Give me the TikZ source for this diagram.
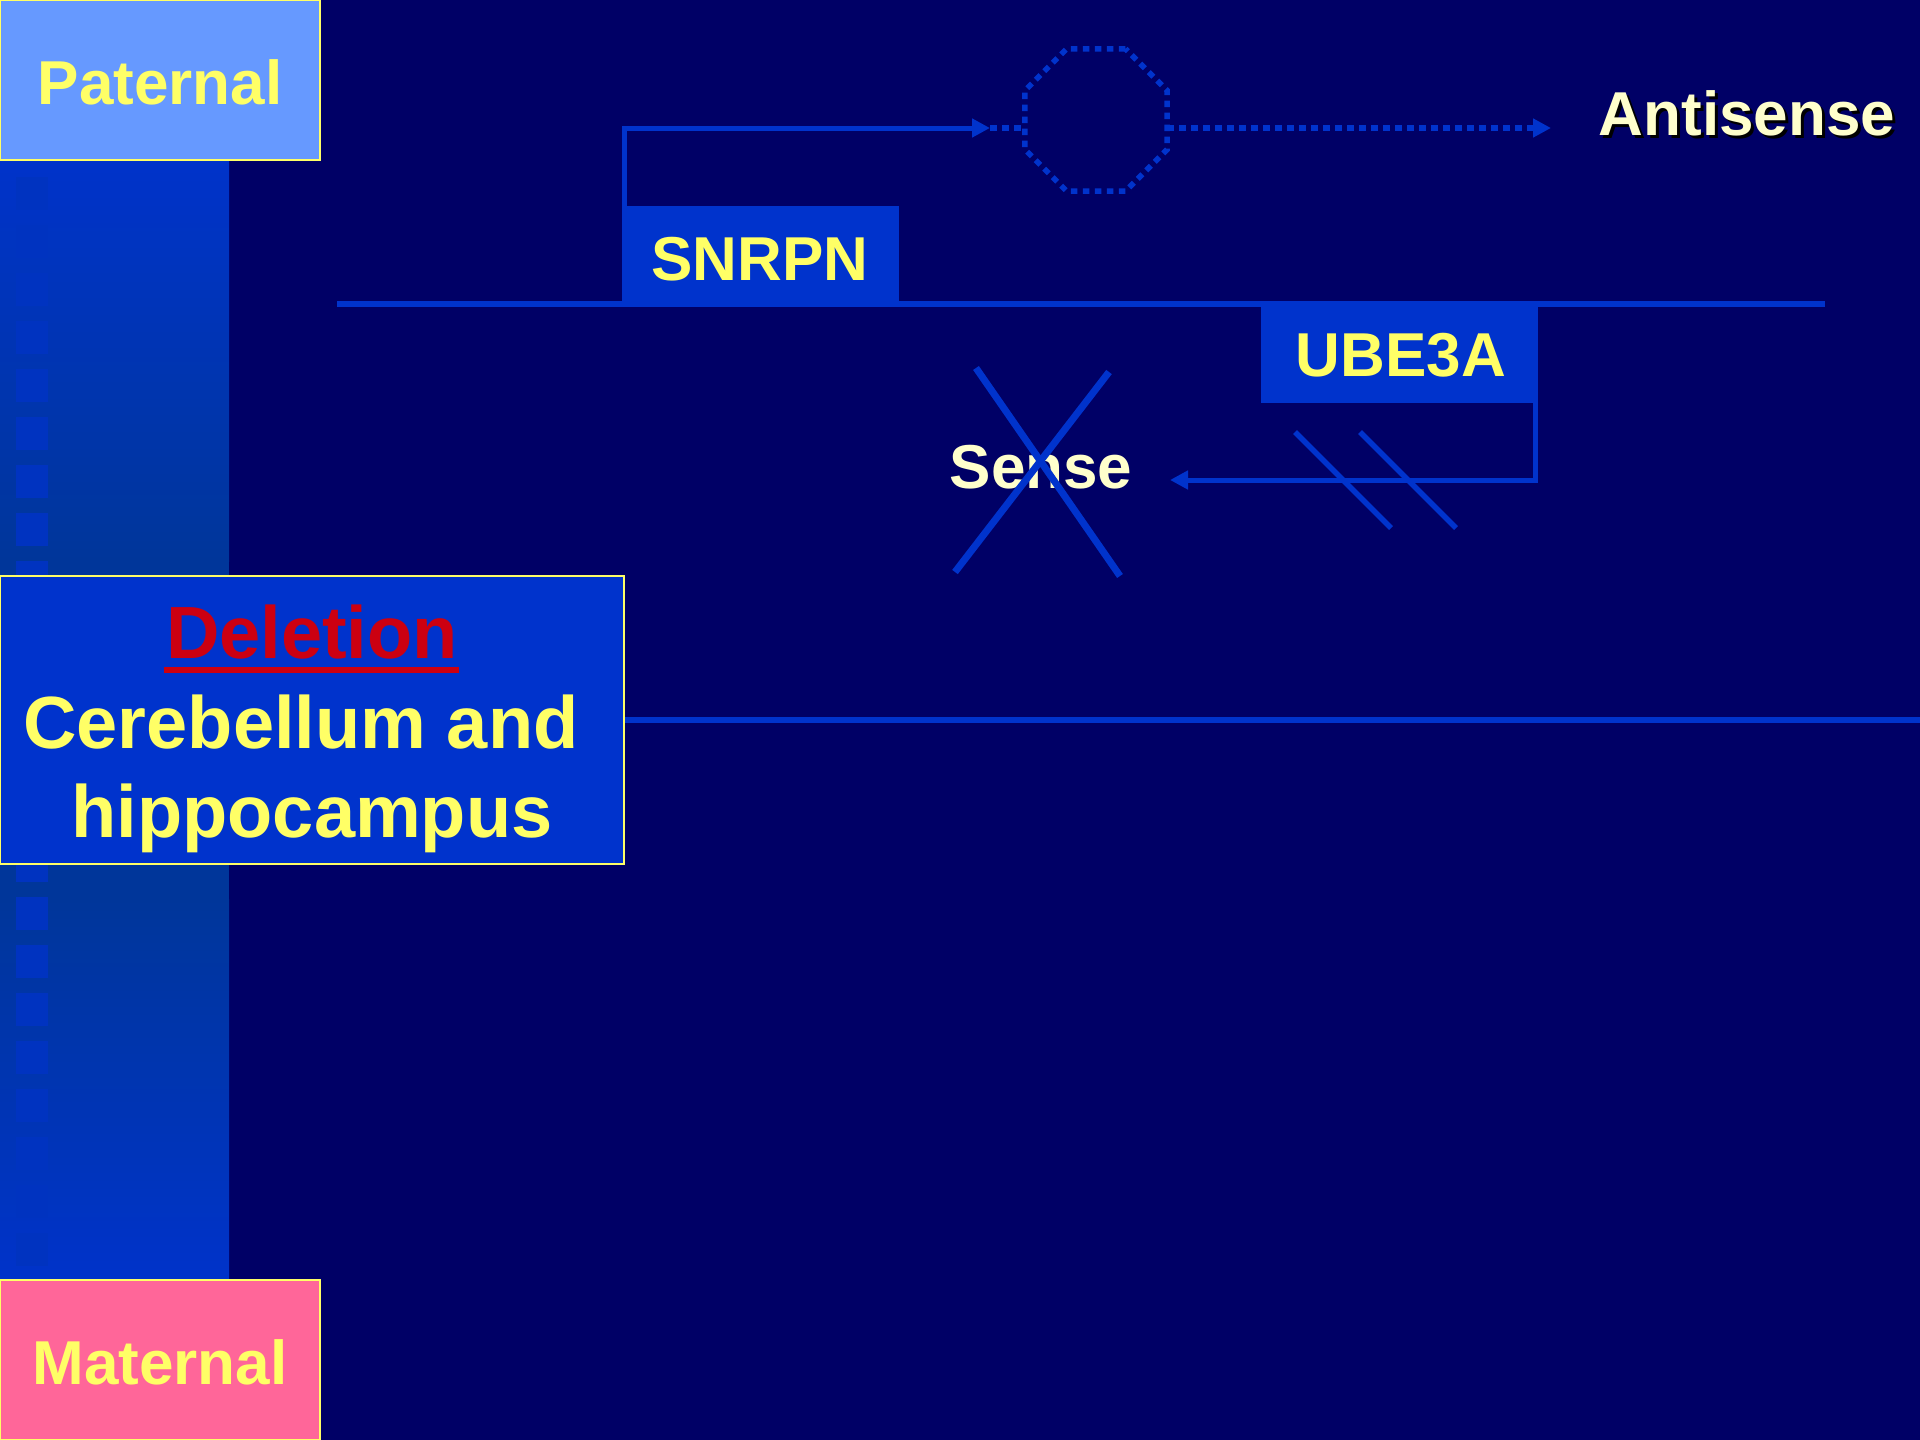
\documentclass[tikz,border=0pt]{standalone}
\usepackage{fontspec}
\setmainfont{Liberation Sans}
\usetikzlibrary{arrows.meta,shapes.geometric}
\definecolor{bg}{HTML}{000066}
\definecolor{lineblue}{HTML}{0033CC}
\definecolor{boxblue}{HTML}{0033CC}
\definecolor{stripetop}{HTML}{0033CA}
\definecolor{stripemid}{HTML}{00369A}
\definecolor{sqcol}{HTML}{0033C0}
\definecolor{txtyellow}{HTML}{FFFF66}
\definecolor{paleyellow}{HTML}{FFFFCC}
\definecolor{delred}{HTML}{CC0011}
\definecolor{patblue}{HTML}{6699FF}
\definecolor{matpink}{HTML}{FF6699}
\begin{document}
\begin{tikzpicture}[x=1pt,y=-1pt,
  framebox/.style={draw=txtyellow, line width=2pt, inner sep=0pt, outer sep=0pt, anchor=north west},
  genebox/.style={fill=boxblue, inner sep=0pt, outer sep=0pt, anchor=north west, minimum width=277pt, minimum height=96pt},
  lab/.style={font=\bfseries\fontsize{62}{70}\selectfont, text=txtyellow, inner sep=0pt, anchor=base},
  biglab/.style={font=\bfseries\fontsize{74}{84}\selectfont, text=txtyellow, inner sep=0pt, anchor=base},
  ln/.style={draw=lineblue, line width=5pt},
  dotln/.style={draw=lineblue, line width=5.5pt, dash pattern=on 6.5pt off 5.5pt},
  tip/.style={-{Triangle[length=18pt,width=18pt]}}
]
\useasboundingbox (0,0) rectangle (1920,1440);
\fill[bg] (0,0) rectangle (1920,1440);

% left stripe
\shade[top color=stripetop, bottom color=stripemid] (0,160) rectangle (229,561);
\fill[stripemid] (0,560) rectangle (229,900);
\shade[top color=stripemid, bottom color=stripetop] (0,899) rectangle (229,1280);
\foreach \k in {0,...,22} {
  \fill[sqcol] (16,{177+48*\k}) rectangle (48,{210+48*\k});
}

% chromosome lines
\draw[draw=lineblue, line width=6pt] (337,304) -- (1825,304);
\draw[draw=lineblue, line width=6pt] (624,720) -- (1920,720);

% boxes
\node[framebox, fill=patblue, minimum width=320pt, minimum height=160pt] (pbox) at (0,0) {};
\node[lab] (ptext) at (160,104) {Paternal};
\node[framebox, fill=matpink, minimum width=320pt, minimum height=160pt] (mbox) at (0,1280) {};
\node[lab] (mtext) at (160,1384) {Maternal};

\node[framebox, fill=boxblue, minimum width=624pt, minimum height=288pt] (dbox) at (0,576) {};
\node[biglab, text=delred] (dtext) at (312,658) {Deletion};
\draw[draw=delred, line width=6.5pt] (164,670) -- (459,670);
\node[biglab] (ctext) at (301,748) {Cerebellum and};
\node[biglab] (htext) at (312,837) {hippocampus};

% genes
\node[genebox] (snrpn) at (622,206) {};
\node[lab] (snrpntext) at (760,280) {SNRPN};
\node[genebox] (ube) at (1261,307) {};
\node[lab] (ubetext) at (1401,376) {UBE3A};

% antisense transcript
\coordinate (a1tip) at (990,128);
\coordinate (a2tip) at (1551,128);
\node[regular polygon, regular polygon sides=8, minimum size=154pt, inner sep=0pt, outer sep=0pt, dotln] (oct) at (1096,120) {};
\draw[ln, tip] ([xshift=2.5pt]snrpn.north west) |- (a1tip);
\draw[dotln] (a1tip) -- (oct.west |- a1tip);
\draw[dotln, tip] (oct.east |- a1tip) -- (a2tip);
\node[lab, text=black] (antishadow) at (1750,138) {Antisense};
\node[lab, text=paleyellow] (antitext) at (1747,135) {Antisense};

% sense transcript
\coordinate (stip) at (1170,480);
\draw[ln, tip] ([xshift=-2.5pt]ube.south east) |- (stip);
\draw[draw=lineblue, line width=5.5pt] (1295,432) -- (1391,528);
\draw[draw=lineblue, line width=5.5pt] (1360,432) -- (1456,528);
\node[lab, text=paleyellow] (sensetext) at (1041,488) {Sense};
\draw[draw=lineblue, line width=7pt] (976,368) -- (1120,576);
\draw[draw=lineblue, line width=7pt] (1109,372) -- (955,572);
\end{tikzpicture}
\end{document}
